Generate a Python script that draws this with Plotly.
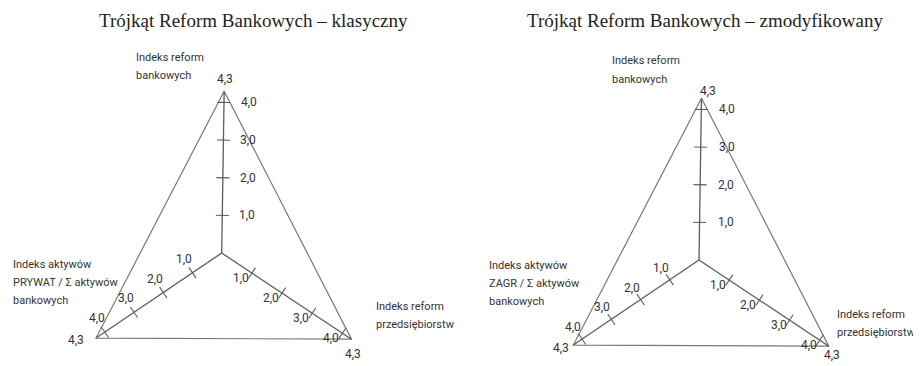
import plotly.graph_objects as go

# chart content
TITLES = ["Trójkąt Reform Bankowych – klasyczny",
          "Trójkąt Reform Bankowych – zmodyfikowany"]
TICK_VALUES = [1.0, 2.0, 3.0, 4.0]
AXIS_MAX = 4.3
TOP_NAMES = ["Indeks reform<br>bankowych", "Indeks reform<br>bankowych"]
LEFT_NAMES = ["Indeks aktywów<br>PRYWAT / Σ aktywów<br>bankowych",
              "Indeks aktywów<br>ZAGR / Σ aktywów<br>bankowych"]
RIGHT_NAMES = ["Indeks reform<br>przedsiębiorstw", "Indeks reform<br>przedsiębiorstw"]

# geometry / style
OFF = 8                      # the page body has an 8px margin
W, H = 921 - OFF, 366 - OFF
S = 38.4                     # px per index unit
CENTERS = [(221.7, 253.0), (699.0, 260.0)]   # where each panel's origin sits on the page
DIRS = {"top": (0.015, 0.98), "left": (-0.761, -0.515), "right": (0.786, -0.522)}
TICK_HALF = 6.5 / S
LABEL_SHIFT = [{"top": (25, 0), "left": (-8, 14), "right": (-11, -5)},
               {"top": (26, 0), "left": (-9, 12), "right": (-11, -5)}]
END_SHIFT = [{"top": (1, 12), "left": (-20, -2), "right": (2, -15)},
             {"top": (7, 7), "left": (-12, -3), "right": (3, -9)}]
SANS = "Roboto, Liberation Sans, sans-serif"
SERIF = "Liberation Serif, Times New Roman, serif"
AXIS_COLOR = "#5c5c5c"
TRI_COLOR = "#787878"
TEXT_COLOR = "#333333"
LINE_GAP = 18.3


def fmt(v):
    return f"{v:.1f}".replace(".", ",")


def unit(d):
    n = (d[0] ** 2 + d[1] ** 2) ** 0.5
    return d[0] / n, d[1] / n


def paper(px, py):
    return (px - OFF) / W, 1 - (py - OFF) / H


fig = go.Figure()
annotations = []

for i in range(2):
    xa = "x" if i == 0 else "x2"
    ya = "y" if i == 0 else "y2"
    ax_x, ax_y = [], []
    for k, d in DIRS.items():
        ax_x += [0, d[0] * AXIS_MAX, None]
        ax_y += [0, d[1] * AXIS_MAX, None]
    tk_x, tk_y = [], []
    for k, d in DIRS.items():
        ux, uy = unit(d)
        px, py = -uy, ux
        for v in TICK_VALUES:
            cx, cy = d[0] * v, d[1] * v
            tk_x += [cx - px * TICK_HALF, cx + px * TICK_HALF, None]
            tk_y += [cy - py * TICK_HALF, cy + py * TICK_HALF, None]
    order = ["top", "right", "left", "top"]
    tri_x = [DIRS[k][0] * AXIS_MAX for k in order]
    tri_y = [DIRS[k][1] * AXIS_MAX for k in order]

    fig.add_trace(go.Scatter(x=tri_x, y=tri_y, mode="lines", xaxis=xa, yaxis=ya,
                             line=dict(color=TRI_COLOR, width=1.2), hoverinfo="skip"))
    fig.add_trace(go.Scatter(x=ax_x, y=ax_y, mode="lines", xaxis=xa, yaxis=ya,
                             line=dict(color=AXIS_COLOR, width=1.3), hoverinfo="skip"))
    fig.add_trace(go.Scatter(x=tk_x, y=tk_y, mode="lines", xaxis=xa, yaxis=ya,
                             line=dict(color=AXIS_COLOR, width=1.1), hoverinfo="skip"))

    for k, d in DIRS.items():
        sx, sy = LABEL_SHIFT[i][k]
        for v in TICK_VALUES:
            annotations.append(dict(x=d[0] * v, y=d[1] * v, xref=xa, yref=ya, text=fmt(v),
                                    showarrow=False, xshift=sx, yshift=sy,
                                    font=dict(family=SANS, size=12, color=TEXT_COLOR)))
        ex, ey = END_SHIFT[i][k]
        annotations.append(dict(x=d[0] * AXIS_MAX, y=d[1] * AXIS_MAX, xref=xa, yref=ya,
                                text=fmt(AXIS_MAX), showarrow=False, xshift=ex, yshift=ey,
                                font=dict(family=SANS, size=12, color=TEXT_COLOR)))

# titles
for i, (tx, ty) in enumerate([(253, 21), (705, 21)]):
    x, y = paper(tx, ty)
    annotations.append(dict(x=x, y=y, xref="paper", yref="paper", text=TITLES[i],
                            showarrow=False, xanchor="center", yanchor="middle",
                            font=dict(family=SERIF, size=19, color="#222222")))

# axis names, one annotation per line to keep the wide line spacing
name_pos = [
    (TOP_NAMES[0], 134, 57), (LEFT_NAMES[0], 11, 264), (RIGHT_NAMES[0], 374, 306),
    (TOP_NAMES[1], 610, 61), (LEFT_NAMES[1], 487, 265), (RIGHT_NAMES[1], 835, 314),
]
for text, px_, py_ in name_pos:
    for j, line in enumerate(text.split("<br>")):
        x, y = paper(px_, py_ + j * LINE_GAP)
        annotations.append(dict(x=x, y=y, xref="paper", yref="paper", text=line,
                                showarrow=False, xanchor="left", yanchor="middle",
                                font=dict(family=SANS, size=11, color=TEXT_COLOR)))

half = 0.5
(c0x, c0y), (c1x, c1y) = [(cx - OFF, cy - OFF) for cx, cy in CENTERS]
fig.update_layout(
    width=W, height=H,
    margin=dict(l=0, r=0, t=0, b=0),
    paper_bgcolor="white", plot_bgcolor="white",
    showlegend=False,
    annotations=annotations,
    xaxis=dict(domain=[0, half], range=[-c0x / S, (W * half - c0x) / S], visible=False, anchor="y"),
    yaxis=dict(domain=[0, 1], range=[(c0y - H) / S, c0y / S], visible=False, anchor="x"),
    xaxis2=dict(domain=[half, 1], range=[(W * half - c1x) / S, (W - c1x) / S], visible=False, anchor="y2"),
    yaxis2=dict(domain=[0, 1], range=[(c1y - H) / S, c1y / S], visible=False, anchor="x2"),
)

fig.write_html("out.html")
